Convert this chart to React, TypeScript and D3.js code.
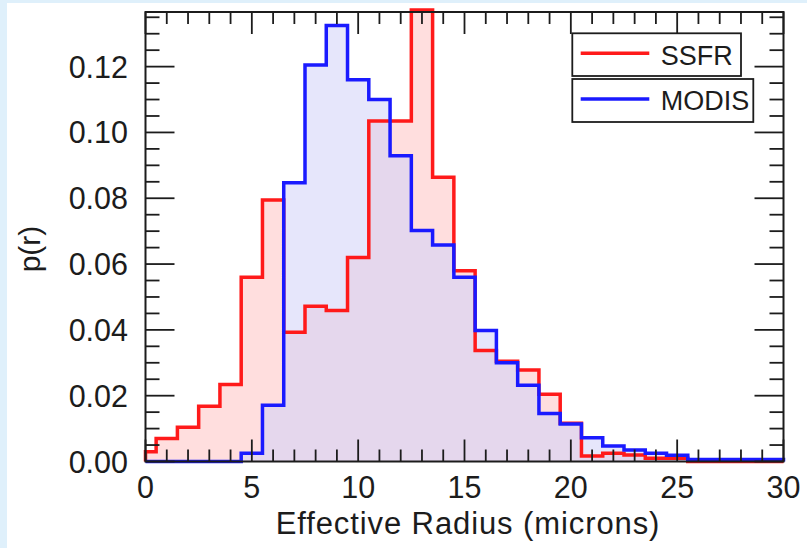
import React from "react";
import * as d3 from "d3";

// Bin centres (microns); each bin is 1 micron wide, centred on the integer.
const radiusBins: number[] = d3.range(0, 31);

// Normalised droplet effective-radius distributions p(r)
const ssfrValues: number[] = [
  0.003, 0.007, 0.0104, 0.0168, 0.0234, 0.056, 0.0795, 0.0393, 0.0472, 0.0459,
  0.062, 0.1035, 0.1035, 0.1372, 0.0864, 0.058, 0.0337, 0.0305, 0.0278, 0.0204,
  0.0116, 0.0017, 0.0025, 0.002, 0.001, 0.001, 0, 0, 0, 0, 0,
];
const modisValues: number[] = [
  0, 0, 0, 0, 0, 0.0025, 0.0171, 0.0847, 0.1205, 0.1325, 0.116, 0.110, 0.0929,
  0.0702, 0.0658, 0.056, 0.0398, 0.030, 0.0232, 0.0146, 0.0114, 0.0072, 0.0047,
  0.0035, 0.0025, 0.0019, 0.0006, 0.0006, 0.0006, 0.0006, 0.0006,
];

const seriesNames: string[] = ["SSFR", "MODIS"];
const seriesColors: string[] = ["#ff1a1a", "#1a1aff"];

const xMajorTicks: number[] = [0, 5, 10, 15, 20, 25, 30];
const xTickLabels: string[] = ["0", "5", "10", "15", "20", "25", "30"];
const yMajorTicks: number[] = [0, 0.02, 0.04, 0.06, 0.08, 0.1, 0.12];
const yTickLabels: string[] = ["0.00", "0.02", "0.04", "0.06", "0.08", "0.10", "0.12"];

const W = 807;
const H = 548;
const left = 145.5;
const right = 783.5;
const top = 12;
const bottom = 461.5;

const x = d3.scaleLinear().domain([0, 30]).range([left, right]);
const y = d3.scaleLinear().domain([0, 0.1366]).range([bottom, top]);

type Pt = [number, number];

// Turn per-bin values into a stepped outline clipped to [0, 30].
function stepPoints(values: number[]): Pt[] {
  const pts: Pt[] = [[0, 0]];
  radiusBins.forEach((c, i) => {
    const lo = Math.max(0, c - 0.5);
    const hi = Math.min(30, c + 0.5);
    pts.push([lo, values[i]], [hi, values[i]]);
  });
  pts.push([30, 0]);
  return pts;
}

const line = d3
  .line<Pt>()
  .x((d) => x(d[0]))
  .y((d) => y(d[1]));
const area = d3
  .area<Pt>()
  .x((d) => x(d[0]))
  .y0(y(0))
  .y1((d) => y(d[1]));

const overlapValues = ssfrValues.map((v, i) => Math.min(v, modisValues[i]));

const font = "'Liberation Sans', Arial, Helvetica, sans-serif";
const ink = "#1c1c1c";

export default function App() {
  const ssfrPts = stepPoints(ssfrValues);
  const modisPts = stepPoints(modisValues);
  const overlapPts = stepPoints(overlapValues);

  const xMinor = d3.range(0, 31, 1);
  const yMinor = d3.range(0, 0.1366, 0.005);

  return (
    <svg
      width={W}
      height={H}
      style={{ position: "absolute", left: 0, top: 0, display: "block" }}
    >
      {/* slide background edge */}
      <rect x={0} y={0} width={W} height={H} fill="#dff0fb" />
      <rect x={7} y={3} width={W - 7} height={H - 3} fill="#ffffff" />

      {/* filled histograms */}
      <path d={area(ssfrPts) || ""} fill="#ffdede" />
      <path d={area(modisPts) || ""} fill="#e6e6fb" />
      <path d={area(overlapPts) || ""} fill="#e5d7ed" />

      {/* stepped outlines */}
      <path
        d={line(ssfrPts) || ""}
        fill="none"
        stroke={seriesColors[0]}
        strokeWidth={3.5}
        strokeLinejoin="miter"
      />
      <path
        d={line(modisPts) || ""}
        fill="none"
        stroke={seriesColors[1]}
        strokeWidth={3.5}
        strokeLinejoin="miter"
      />

      {/* frame and inward ticks */}
      <g stroke={ink} strokeWidth={1.8}>
        {xMinor.map((v) => {
          const major = v % 5 === 0;
          const len = major ? 22 : 12;
          return (
            <g key={"xt" + v}>
              <line x1={x(v)} x2={x(v)} y1={bottom} y2={bottom - len} />
              <line x1={x(v)} x2={x(v)} y1={top} y2={top + len} />
            </g>
          );
        })}
        {yMinor.map((v, i) => {
          const major = i % 4 === 0;
          const len = major ? 29 : 14;
          return (
            <g key={"yt" + i}>
              <line x1={left} x2={left + len} y1={y(v)} y2={y(v)} />
              <line x1={right} x2={right - len} y1={y(v)} y2={y(v)} />
            </g>
          );
        })}
        <rect
          x={left}
          y={top}
          width={right - left}
          height={bottom - top}
          fill="none"
          strokeWidth={2}
        />
      </g>

      {/* tick labels */}
      <g fontFamily={font} fontSize={30.5} fill={ink}>
        {yMajorTicks.map((v, i) => (
          <text key={"yl" + i} x={128} y={y(v) + 11} textAnchor="end">
            {yTickLabels[i]}
          </text>
        ))}
        {xMajorTicks.map((v, i) => (
          <text key={"xl" + i} x={x(v)} y={498} textAnchor="middle">
            {xTickLabels[i]}
          </text>
        ))}
      </g>

      {/* axis titles */}
      <text
        x={468}
        y={534}
        textAnchor="middle"
        fontFamily={font}
        fontSize={31}
        letterSpacing={0.9}
        fill={ink}
      >
        Effective Radius (microns)
      </text>
      <text
        transform="translate(40,249) rotate(-90)"
        textAnchor="middle"
        fontFamily={font}
        fontSize={30}
        fill={ink}
      >
        p(r)
      </text>

      {/* legend */}
      <g fontFamily={font} fontSize={27} fill={ink}>
        <rect x={572.3} y={33.3} width={168.7} height={42.7} fill="#fff" stroke={ink} strokeWidth={1.8} />
        <line x1={580.7} x2={649.3} y1={53.3} y2={53.3} stroke={seriesColors[0]} strokeWidth={3.5} />
        <text x={660.7} y={65}>{seriesNames[0]}</text>
        <rect x={572.3} y={79} width={181} height={43} fill="#fff" stroke={ink} strokeWidth={1.8} />
        <line x1={580.7} x2={649.3} y1={99} y2={99} stroke={seriesColors[1]} strokeWidth={3.5} />
        <text x={660.7} y={110}>{seriesNames[1]}</text>
      </g>
    </svg>
  );
}
